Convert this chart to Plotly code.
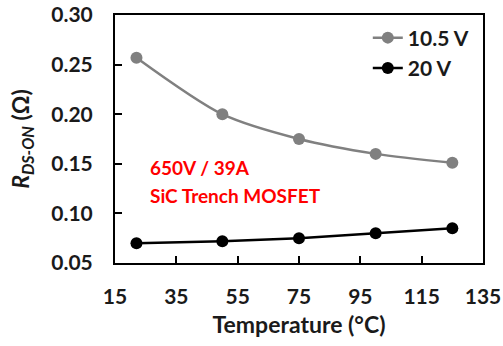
import plotly.graph_objects as go

# Temperature sweep (°C) and on-resistance (Ω) at two gate voltages
temperature = [22, 50, 75, 100, 125]
rds_10v5 = [0.257, 0.200, 0.175, 0.160, 0.151]
rds_20v = [0.070, 0.072, 0.075, 0.080, 0.085]

x_ticks = [15, 35, 55, 75, 95, 115, 135]
y_ticks = [0.05, 0.10, 0.15, 0.20, 0.25, 0.30]

device_label = ["650V / 39A", "SiC Trench MOSFET"]

FONT = "Lato"
INK = "#1a1a1a"

fig = go.Figure()
fig.add_trace(go.Scatter(
    x=temperature, y=rds_10v5, name="10.5 V",
    mode="lines+markers",
    line=dict(color="#808080", width=2.5, shape="spline", smoothing=0.8),
    marker=dict(color="#808080", size=12),
))
fig.add_trace(go.Scatter(
    x=temperature, y=rds_20v, name="20 V",
    mode="lines+markers",
    line=dict(color="#000000", width=2.5, shape="spline", smoothing=0.5),
    marker=dict(color="#000000", size=12),
))

# Device description, one annotation per line for tighter control of spacing
for line_text, y_pos in zip(device_label, [0.1458, 0.1185]):
    fig.add_annotation(
        x=25.8, y=y_pos, xref="x", yref="y", xanchor="left", yanchor="middle",
        text=f"<b>{line_text}</b>",
        showarrow=False, align="left",
        font=dict(family=FONT, size=19, color="#ff0000"),
    )

axis_common = dict(
    showline=True, linecolor="black", linewidth=2, mirror=True,
    ticks="inside", ticklen=7, tickwidth=2, tickcolor="black",
    showgrid=False, zeroline=False, automargin=False,
    tickfont=dict(family=FONT, size=21, color=INK, weight="bold"),
)

fig.update_xaxes(
    range=[15, 135], tickvals=x_ticks, ticklabelstandoff=14,
    title=dict(text="<b>Temperature (°C)</b>", font=dict(family=FONT, size=23, color=INK), standoff=10),
    **axis_common,
)
fig.update_yaxes(
    range=[0.05, 0.30], tickvals=y_ticks, tickformat=".2f", ticklabelstandoff=16,
    title=dict(text="<b><i>R</i><sub><i>DS-ON</i></sub> (Ω)</b>", font=dict(family=FONT, size=23, color=INK), standoff=15),
    **axis_common,
)

fig.update_layout(
    width=503, height=346,
    margin=dict(l=115, r=20, t=15, b=83, autoexpand=False),
    plot_bgcolor="white", paper_bgcolor="white",
    font=dict(family=FONT, color=INK),
    legend=dict(
        x=0.975, y=0.99, xanchor="right", yanchor="top",
        bgcolor="rgba(0,0,0,0)",
        font=dict(family=FONT, size=21, color=INK, weight="bold"),
        itemwidth=30, tracegroupgap=0,
    ),
)

fig.write_html("out.html")
